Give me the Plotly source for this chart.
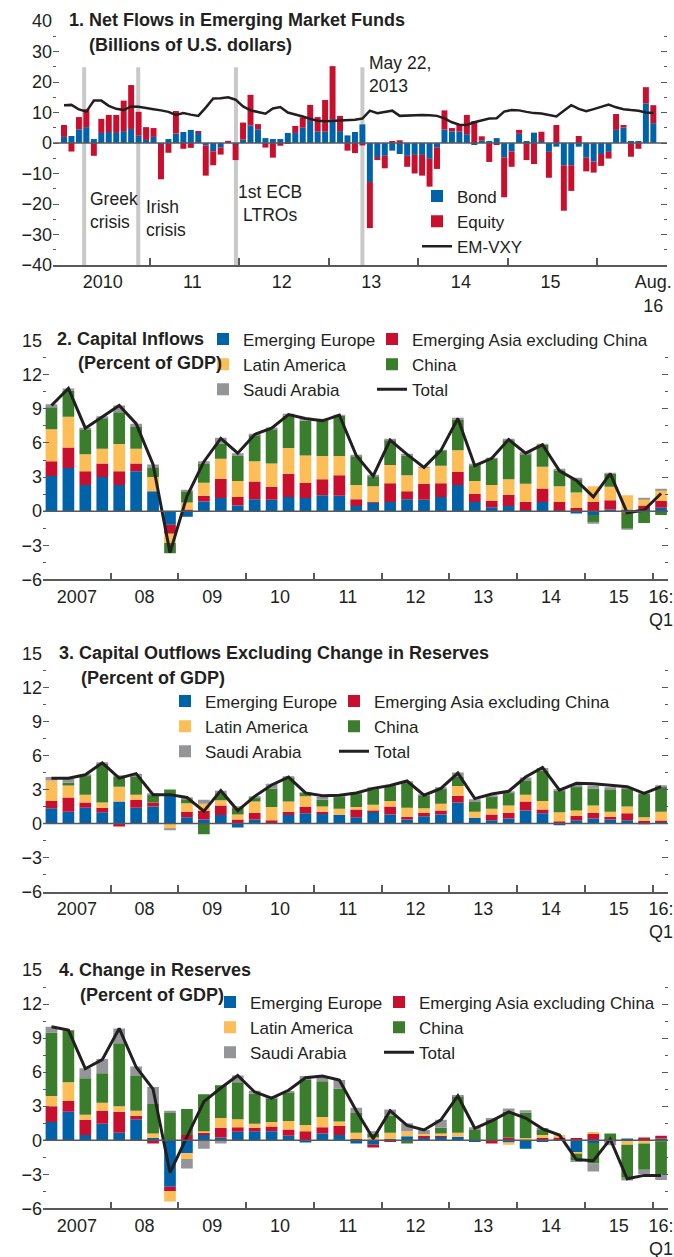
import numpy as np
import pandas as pd
import plotly.graph_objects as go

W, H = 674, 1257
FONT = "Liberation Sans, Arial, sans-serif"
INK = "#231f20"
AXIS_GREY = "#58595b"

BLUE = "#0062a8"
RED = "#c8102e"
YELLOW = "#fdbe57"
GREEN = "#3a7d2c"
GREY = "#939598"

# ---------------------------------------------------------------------------
# Panel 1: monthly net flows in EM funds, Jan 2010 - Aug 2016 (billions of USD)
months = pd.period_range("2010-01", "2016-08", freq="M").strftime("%Y-%m").tolist()
bond = [2.0, 2.3, 4.5, 5.2, 1.3, 3.3, 3.6, 3.3, 3.9, 4.6, 2.4, 1.0,
        2.0, -0.5, 1.3, 3.1, 3.6, 4.3, 3.3, -0.8, -2.7, -1.4, 0.0, -0.5,
        1.1, 5.7, 4.5, 1.6, 1.3, 1.3, 3.3, 3.3, 5.0, 7.2, 3.7, 3.7,
        7.8, 3.9, 2.5, 3.6, 6.1, -12.8, -4.6, -4.2, -2.5, -3.6, -4.2, -3.9,
        -3.9, -5.2, -1.4, 4.4, 3.8, 3.8, 2.9, -0.6, 0.9, 0.5, 1.6, -4.7,
        -2.8, 3.0, 0.6, 3.4, 0.6, -2.9, -1.2, -7.3, -7.3, -1.2, -4.8, -6.1,
        -3.6, -2.9, 4.3, 5.1, 0.6, 0.5, 13.0, 6.5]
equity = [3.9, -2.8, 4.0, 5.9, -4.2, 4.6, 5.6, 5.9, 10.0, 14.4, 7.8, 4.2,
          2.9, -11.4, -3.2, 7.4, -1.9, -1.6, 0.4, -9.9, -4.6, -2.4, 0.7, -5.1,
          5.6, 10.1, 1.7, -1.5, -4.8, -0.9, -0.2, 2.3, 3.4, 5.3, 4.8, 10.4,
          17.4, 5.0, -2.5, -3.3, -0.8, -15.1, -1.0, -4.1, 0.6, 0.9, -3.6, -6.1,
          -6.8, -9.1, -7.1, 6.3, 1.1, 2.3, 6.3, 7.2, 1.3, -6.2, -0.4, -13.1,
          -5.0, 1.3, -5.6, -6.9, 3.1, -8.5, 5.9, -14.9, -8.4, 2.3, -4.5, -3.6,
          -3.9, -2.2, 5.2, 0.8, -4.5, -1.9, 5.3, 5.9]
em_vxy = [12.4, 12.5, 11.0, 10.3, 13.9, 13.9, 12.2, 11.2, 10.8, 12.0, 11.9, 11.6,
          11.1, 10.7, 10.2, 9.2, 9.8, 9.3, 8.9, 11.6, 14.6, 14.7, 15.0, 14.2,
          12.0, 10.7, 10.2, 9.6, 11.3, 11.8, 10.0, 9.4, 8.7, 7.9, 7.3, 7.1,
          7.2, 7.3, 7.3, 7.6, 8.0, 10.6, 9.8, 10.2, 10.6, 8.9, 9.0, 9.2,
          9.2, 9.1, 8.9, 8.1, 6.8, 6.0, 5.9, 6.8, 7.3, 8.0, 8.1, 10.3,
          10.8, 10.7, 10.2, 9.8, 9.7, 9.2, 8.7, 10.6, 12.4, 11.2, 10.4, 11.1,
          11.9, 12.6, 11.7, 11.1, 10.8, 10.6, 10.0, 9.8]

events = ["Greek<br>crisis", "Irish<br>crisis", "1st ECB<br>LTROs", "May 22,<br>2013"]
event_month = [2.7, 9.95, 23.05, 40.0]  # position on the month axis

year_labels_m = ["2010", "11", "12", "13", "14", "15", "Aug.<br>16"]

# ---------------------------------------------------------------------------
# Panels 2-4: quarterly, 2007:Q1 - 2016:Q1 (percent of GDP)
quarters = pd.period_range("2007Q1", "2016Q1", freq="Q").astype(str).tolist()
regions = ["Emerging Europe", "Emerging Asia excluding China", "Latin America",
           "China", "Saudi Arabia"]
region_colors = [BLUE, RED, YELLOW, GREEN, GREY]

inflow_europe = [3.1, 3.8, 2.3, 3.0, 2.3, 3.5, 1.75, -1.2, -0.5, 0.85, 1.15, 0.5, 1.05,
                 1.0, 1.25, 1.15, 1.4, 1.35, 0.45, 0.75, 0.8, 1.05, 1.0, 1.25, 2.3,
                 0.8, 0.35, 0.45, 0.1, 0.8, 0.05, -0.2, -0.35, 0.15, 0.15, 0.1, 0.3]
inflow_asia = [1.3, 1.8, 1.2, 1.2, 1.2, 0.7, 0.0, -0.8, 0.15, 0.5, 1.7, 0.75, 1.55,
               1.15, 2.05, 1.35, 1.4, 1.8, 0.6, 0.05, 1.65, 0.7, 1.4, 1.2, 1.15,
               0.7, 0.55, 1.0, 0.7, 1.2, 0.75, 0.3, 0.8, 0.8, -0.15, 0.4, 0.6]
inflow_latam = [2.8, 2.7, 1.5, 1.3, 2.4, 1.3, 1.25, -0.8, 0.6, 1.15, 1.75, 1.4, 1.8,
                2.05, 2.25, 2.4, 2.05, 1.7, 1.25, 1.4, 1.6, 1.4, 1.45, 1.55, 1.9,
                1.15, 1.4, 1.35, 1.6, 1.9, 1.4, 1.35, 1.4, 1.2, 1.25, 0.55, 0.95]
inflow_china = [1.95, 2.3, 2.2, 2.7, 2.8, 1.9, 0.8, -0.9, 1.0, 1.65, 1.35, 2.2, 2.3,
                3.0, 2.85, 3.05, 3.15, 3.55, 2.55, 0.9, 2.2, 1.75, 0.0, 1.35, 2.7,
                1.4, 2.35, 3.45, 2.65, 1.95, 1.4, 1.2, -0.6, 1.15, -1.4, -1.05, -0.35]
inflow_saudi = [0.25, 0.2, 0.1, 0.15, 0.6, 0.3, 0.3, 0.0, 0.05, 0.25, 0.5, 0.25, 0.1,
                0.15, 0.15, 0.2, 0.1, 0.05, 0.1, 0.05, 0.05, 0.1, 0.05, 0.05, 0.15,
                0.05, 0.05, 0.1, 0.15, 0.05, 0.05, 0.05, -0.1, 0.05, -0.05, 0.1, 0.1]
inflow_total = [9.3, 10.8, 7.3, 8.3, 9.3, 7.7, 4.1, -3.65, 1.3, 4.35, 6.4, 5.1, 6.75,
                7.3, 8.5, 8.15, 7.95, 8.45, 4.9, 3.1, 6.25, 5.0, 3.85, 5.35, 8.15,
                4.0, 4.65, 6.3, 5.1, 5.85, 3.55, 2.7, 1.25, 3.3, -0.15, 0.1, 1.55]

outflow_europe = [1.35, 1.05, 1.4, 1.0, 1.95, 1.4, 1.5, 2.6, 0.55, 0.35, 0.75, -0.35, 0.35,
                  0.0, 0.75, 0.9, 0.85, 0.75, 0.55, 1.05, 0.8, 0.35, 0.65, 0.8, 1.85,
                  0.5, 0.3, 0.45, 1.15, 0.9, -0.15, 0.3, 0.45, 0.35, 0.3, 0.1, 0.2]
outflow_asia = [0.65, 1.25, 0.45, 0.4, -0.25, 0.7, 0.35, 0.0, 0.5, 0.75, 0.85, 0.35, 0.6,
                0.3, 0.3, 0.55, 0.2, 0.0, 0.7, 0.1, 0.7, 0.25, 0.3, 0.35, 0.6,
                0.0, 0.5, 0.5, 0.8, 0.35, 0.2, 0.4, 0.5, 0.25, 0.6, 0.15, 0.05]
outflow_latam = [1.8, 1.05, 0.7, 0.45, 1.3, 0.45, 0.0, -0.45, 0.75, 0.65, 0.45, 0.45, 1.0,
                 1.15, 0.9, 0.95, 0.45, 0.55, 0.2, 0.5, 0.5, 0.8, 0.4, 0.6, 0.85,
                 0.55, 0.5, 0.65, 0.6, 0.75, 0.8, 0.45, 0.65, 0.45, 0.6, 0.3, 0.8]
outflow_china = [0.0, 0.25, 1.7, 3.45, 0.85, 1.55, 0.7, 0.4, 0.35, -0.95, 0.55, 0.6, 0.35,
                 1.65, 2.1, 0.3, 0.6, 1.1, 1.2, 1.4, 1.3, 2.2, 1.15, 1.3, 0.8,
                 0.85, 1.1, 1.15, 1.2, 2.65, 1.9, 2.1, 1.5, 1.9, 1.55, 2.05, 2.2]
outflow_saudi = [0.3, 0.4, 0.05, 0.1, 0.1, 0.3, 0.05, -0.1, 0.15, 0.35, 0.3, 0.05, 0.1,
                 0.4, 0.05, 0.05, 0.25, 0.05, 0.05, 0.1, 0.05, 0.1, 0.05, 0.1, 0.4,
                 0.25, 0.05, 0.1, 0.3, 0.25, 0.05, 0.15, 0.25, 0.25, 0.1, 0.05, 0.1]
outflow_total = [4.0, 4.0, 4.3, 5.35, 4.0, 4.4, 2.55, 2.55, 2.3, 1.1, 2.9, 1.15, 2.4,
                 3.4, 4.1, 2.7, 2.45, 2.5, 2.7, 3.1, 3.35, 3.75, 2.5, 3.1, 4.45,
                 2.2, 2.6, 2.85, 4.1, 4.95, 2.95, 3.55, 3.5, 3.4, 3.25, 2.65, 3.25]

reserve_europe = [1.6, 2.5, 0.45, 1.45, 0.65, 1.85, 0.2, -4.1, -1.15, 0.5, 0.25, 0.75, 0.8,
                  0.8, 0.4, -0.2, 0.6, 0.45, -0.3, -0.4, 0.1, 0.35, 0.25, 0.3, 0.3,
                  -0.1, 0.0, -0.2, -0.75, -0.1, 0.1, -1.1, -0.25, -0.1, 0.15, 0.1, 0.15]
reserve_asia = [1.4, 0.95, 1.35, 1.15, 1.85, 0.3, -0.3, -0.4, 0.45, 0.15, 0.85, 0.4, 0.3,
                0.4, 0.55, 0.8, 0.55, 0.8, 0.1, -0.25, -0.15, 0.0, 0.15, 0.15, 0.0,
                0.0, -0.3, 0.25, 0.0, 0.2, 0.15, 0.2, 0.55, 0.05, 0.0, 0.15, 0.25]
reserve_latam = [0.9, 1.65, 0.45, 0.7, 0.5, 0.45, 0.4, -0.9, -0.5, 0.15, 0.85, 0.7, 0.35,
                 0.4, 0.75, 0.55, 0.9, 0.4, 0.55, 0.25, 0.55, 0.45, 0.15, 0.15, 0.35,
                 0.0, 0.0, -0.2, 0.2, 0.25, 0.2, -0.1, 0.15, 0.0, -0.4, -0.3, -0.1]
reserve_china = [5.6, 4.6, 3.2, 2.6, 5.55, 3.05, 2.6, 2.4, 2.3, 3.25, 2.9, 3.25, 2.65,
                 2.1, 2.5, 3.95, 3.15, 2.9, 1.75, 0.35, 1.5, -0.3, 0.0, 0.5, 3.2,
                 0.9, 1.85, 2.25, 2.25, 0.45, 0.0, -0.55, -1.8, 0.55, -2.9, -2.3, -2.9]
reserve_saudi = [0.5, 0.0, 0.9, 1.25, 1.3, 0.85, 1.5, 0.2, -0.85, -0.75, -0.3, 0.6, 0.25,
                 0.05, 0.05, 0.35, 0.45, 0.75, 0.45, 0.2, 0.55, 0.7, 0.35, 0.7, 0.05,
                 0.25, 0.1, 0.3, 0.2, 0.1, 0.0, -0.15, -0.7, -0.35, -0.25, -0.4, -0.5]
reserve_total = [10.0, 9.7, 6.3, 7.1, 9.85, 6.45, 4.5, -2.85, 0.3, 3.4, 4.6, 5.7, 4.25,
                 3.7, 4.4, 5.5, 5.65, 5.3, 2.6, 0.15, 2.6, 1.3, 0.9, 1.8, 3.9,
                 1.05, 1.7, 2.5, 1.95, 1.0, 0.45, -1.7, -1.8, 0.1, -3.4, -3.1, -3.1]

year_labels_q = ["2007", "08", "09", "10", "11", "12", "13", "14", "15", "16:<br>Q1"]

quarter_panels = [
    ("2. Capital Inflows",
     [inflow_europe, inflow_asia, inflow_latam, inflow_china, inflow_saudi], inflow_total),
    ("3. Capital Outflows Excluding Change in Reserves",
     [outflow_europe, outflow_asia, outflow_latam, outflow_china, outflow_saudi], outflow_total),
    ("4. Change in Reserves",
     [reserve_europe, reserve_asia, reserve_latam, reserve_china, reserve_saudi], reserve_total),
]

# pixel geometry of each panel: (top, bottom) of the y range
panel_px = [(21, 265), (340.7, 579.3), (653.3, 891.7), (970, 1208.3)]
# legend text anchor (left column x, right column x, first row y)
legend_px = [(457, None, 196), (243, 412, 339), (205, 374, 701), (250, 419, 1002)]
# title positions: (line1 x, line2 x, line1 y)
title_px = [(67, 87, 20), (55, 76, 338.7), (57, 79, 653), (57, 78, 970)]


def px_x(x):
    return x / W


def px_y(y):
    return 1 - y / H


def y_axis(k, rng, step):
    top, bottom = panel_px[k]
    major = list(np.arange(rng[0], rng[1] + step / 2, step))
    minor = [v + step / 2 for v in major[:-1]]
    return dict(
        domain=[px_y(bottom), px_y(top)], range=rng, anchor="x" if k == 0 else f"x{k + 1}",
        tickvals=major, ticks="inside", ticklen=6, tickwidth=1.3, tickcolor=AXIS_GREY,
        minor=dict(tickvals=minor, ticks="inside", ticklen=3, tickwidth=1.3, tickcolor=AXIS_GREY),
        mirror="ticks", showline=False, showgrid=False, zeroline=False,
        tickfont=dict(size=18, color=INK), automargin=False, fixedrange=True,
    )


def x_axis(k, left, right, rng, label_pos, labels, bounds):
    return dict(
        domain=[px_x(left), px_x(right)], range=rng, anchor="y" if k == 0 else f"y{k + 1}",
        tickvals=label_pos, ticktext=labels, ticks="",
        minor=dict(tickvals=bounds, ticks="inside", ticklen=7, tickwidth=1.5, tickcolor=AXIS_GREY),
        showline=True, linecolor=AXIS_GREY, linewidth=1.5,
        showgrid=False, zeroline=False, tickangle=0,
        tickfont=dict(size=18, color=INK), automargin=False, fixedrange=True,
    )


fig = go.Figure()
layout = dict(
    width=W, height=H, margin=dict(l=0, r=0, t=0, b=0),
    template="none", barmode="relative",
    paper_bgcolor="white", plot_bgcolor="white",
    font=dict(family=FONT, color=INK, size=17),
    showlegend=True,
)
annotations = []
shapes = []


def legend_box(x_text, y_first):
    return dict(x=px_x(x_text - 40), y=px_y(y_first - 17.5), xanchor="left", yanchor="top",
                bgcolor="rgba(0,0,0,0)", font=dict(size=17, color=INK),
                orientation="v", traceorder="normal", itemclick=False)


def add_title(k, line1, line2):
    x1, x2, y1 = title_px[k]
    annotations.append(dict(text=f"<b>{line1}</b>", x=px_x(x1), y=px_y(y1), xref="paper",
                            yref="paper", xanchor="left", yanchor="middle", showarrow=False,
                            font=dict(size=18, color=INK)))
    annotations.append(dict(text=f"<b>{line2}</b>", x=px_x(x2), y=px_y(y1 + 24.5), xref="paper",
                            yref="paper", xanchor="left", yanchor="middle", showarrow=False,
                            font=dict(size=18, color=INK)))


def zero_line(k):
    suffix = "" if k == 0 else str(k + 1)
    shapes.append(dict(type="line", xref=f"x{suffix} domain", yref=f"y{suffix}",
                       x0=0, x1=1, y0=0, y1=0, layer="above",
                       line=dict(color=AXIS_GREY, width=1.5)))


# ---- Panel 1 ----------------------------------------------------------------
xm = np.arange(len(months))
fig.add_trace(go.Bar(x=xm, y=bond, name="Bond", marker_color=BLUE, width=0.8,
                     marker_line_width=0, xaxis="x", yaxis="y", legend="legend"))
fig.add_trace(go.Bar(x=xm, y=equity, name="Equity", marker_color=RED, width=0.8,
                     marker_line_width=0, xaxis="x", yaxis="y", legend="legend"))
fig.add_trace(go.Scatter(x=xm, y=em_vxy, name="EM-VXY", mode="lines",
                         line=dict(color=INK, width=2.5), xaxis="x", yaxis="y", legend="legend"))

layout["xaxis"] = x_axis(0, 53, 667, [-1.475, 80.83],
                         [5.2 + 12 * i for i in range(6)] + [len(months) - 1],
                         year_labels_m, [11.5 + 12 * i for i in range(6)])
layout["yaxis"] = y_axis(0, [-40, 40], 10)
layout["legend"] = legend_box(legend_px[0][0], legend_px[0][2])
add_title(0, "1. Net Flows in Emerging Market Funds", "(Billions of U.S. dollars)")
zero_line(0)

for pos in event_month:
    shapes.append(dict(type="line", xref="x", yref="y", x0=pos, x1=pos, y0=-40, y1=24.8,
                       layer="below", line=dict(color="#c9c9c9", width=4)))

# event labels: (x in months, y in data units, anchor)
event_text_pos = [(3.25, -22.0, "left"), (10.7, -24.9, "left"), (27.6, -19.8, "center"),
                  (40.65, 22.3, "left")]
for label, (ex, ey, anchor) in zip(events, event_text_pos):
    annotations.append(dict(text=label, x=ex, y=ey, xref="x", yref="y", xanchor=anchor,
                            yanchor="middle", align=anchor, showarrow=False,
                            font=dict(size=17.5, color=INK)))

# ---- Panels 2-4 -------------------------------------------------------------
xq = np.arange(len(quarters))
for k, (title, series, total) in enumerate(quarter_panels, start=1):
    ax = f"x{k + 1}"
    ay = f"y{k + 1}"
    leg_left = f"legend{2 * k}"
    leg_right = f"legend{2 * k + 1}"
    for j, (name, color, vals) in enumerate(zip(regions, region_colors, series)):
        fig.add_trace(go.Bar(x=xq, y=vals, name=name, marker_color=color, width=0.69,
                             marker_line_width=0, xaxis=ax, yaxis=ay,
                             legend=leg_left if j % 2 == 0 else leg_right))
    fig.add_trace(go.Scatter(x=xq, y=total, name="Total", mode="lines",
                             line=dict(color=INK, width=3), xaxis=ax, yaxis=ay,
                             legend=leg_right))

    layout[f"xaxis{k + 1}"] = x_axis(k, 43, 668, [-0.5, 36.41],
                                     [1.5 + 4 * i for i in range(9)] + [len(quarters) - 1],
                                     year_labels_q, [3.5 + 4 * i for i in range(9)])
    layout[f"yaxis{k + 1}"] = y_axis(k, [-6, 15], 3)
    lx1, lx2, ly = legend_px[k]
    layout[leg_left] = legend_box(lx1, ly)
    layout[leg_right] = legend_box(lx2, ly)
    add_title(k, title, "(Percent of GDP)")
    zero_line(k)

layout["annotations"] = annotations
layout["shapes"] = shapes
fig.update_layout(**layout)

fig.write_html("out.html", config={"displayModeBar": False},
               post_script="document.body.style.margin='0';")
